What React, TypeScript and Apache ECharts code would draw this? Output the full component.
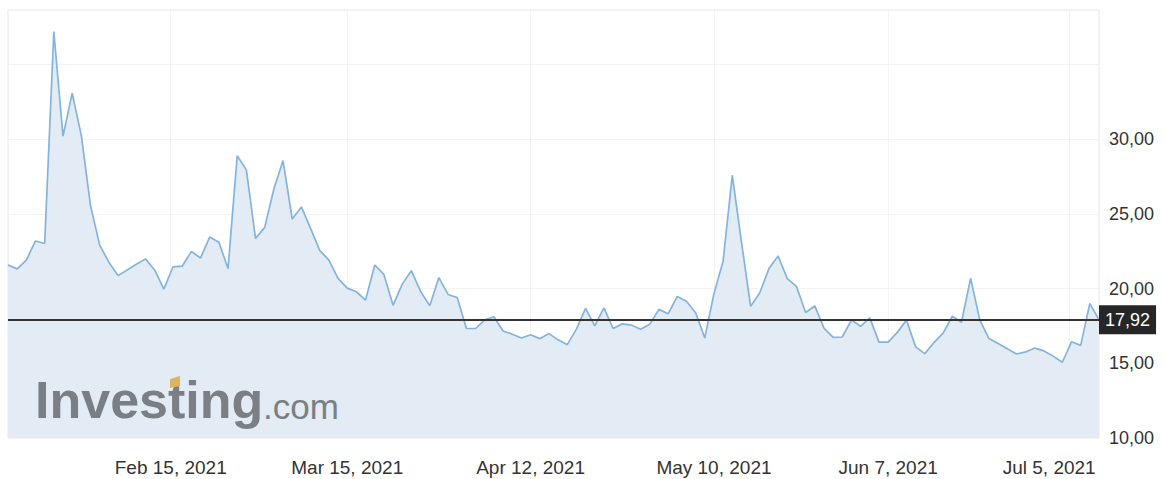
import React, { useEffect, useRef } from "react";
import * as echarts from "echarts";

const dates: string[] = [
  "2021-01-20", "2021-01-21", "2021-01-22", "2021-01-25", "2021-01-26", "2021-01-27", "2021-01-28", "2021-01-29",
  "2021-02-01", "2021-02-02", "2021-02-03", "2021-02-04", "2021-02-05", "2021-02-08", "2021-02-09", "2021-02-10", "2021-02-11", "2021-02-12",
  "2021-02-16", "2021-02-17", "2021-02-18", "2021-02-19", "2021-02-22", "2021-02-23", "2021-02-24", "2021-02-25", "2021-02-26",
  "2021-03-01", "2021-03-02", "2021-03-03", "2021-03-04", "2021-03-05", "2021-03-08", "2021-03-09", "2021-03-10", "2021-03-11", "2021-03-12",
  "2021-03-15", "2021-03-16", "2021-03-17", "2021-03-18", "2021-03-19", "2021-03-22", "2021-03-23", "2021-03-24", "2021-03-25", "2021-03-26",
  "2021-03-29", "2021-03-30", "2021-03-31",
  "2021-04-01", "2021-04-02", "2021-04-05", "2021-04-06", "2021-04-07", "2021-04-08", "2021-04-09", "2021-04-12", "2021-04-13", "2021-04-14",
  "2021-04-15", "2021-04-16", "2021-04-19", "2021-04-20", "2021-04-21", "2021-04-22", "2021-04-23", "2021-04-26", "2021-04-27", "2021-04-28",
  "2021-04-29", "2021-04-30",
  "2021-05-03", "2021-05-04", "2021-05-05", "2021-05-06", "2021-05-07", "2021-05-10", "2021-05-11", "2021-05-12", "2021-05-13", "2021-05-14",
  "2021-05-17", "2021-05-18", "2021-05-19", "2021-05-20", "2021-05-21", "2021-05-24", "2021-05-25", "2021-05-26", "2021-05-27", "2021-05-28",
  "2021-06-01", "2021-06-02", "2021-06-03", "2021-06-04", "2021-06-07", "2021-06-08", "2021-06-09", "2021-06-10", "2021-06-11", "2021-06-14",
  "2021-06-15", "2021-06-16", "2021-06-17", "2021-06-18", "2021-06-21", "2021-06-22", "2021-06-23", "2021-06-24", "2021-06-25", "2021-06-28",
  "2021-06-29", "2021-06-30",
  "2021-07-01", "2021-07-02", "2021-07-06", "2021-07-07", "2021-07-08", "2021-07-09",
];

const values: number[] = [
  21.58, 21.32, 21.91, 23.19, 23.02, 37.21, 30.21, 33.09,
  30.24, 25.56, 22.91, 21.77, 20.87, 21.24, 21.63, 21.99, 21.25, 19.97,
  21.46, 21.5, 22.49, 22.05, 23.45, 23.11, 21.34, 28.89, 27.95,
  23.35, 24.1, 26.67, 28.57, 24.66, 25.47, 24.03, 22.56, 21.91, 20.69,
  20.03, 19.79, 19.23, 21.58, 20.95, 18.88, 20.3, 21.2, 19.81, 18.86,
  20.74, 19.61, 19.4,
  17.33, 17.33, 17.91, 18.12, 17.16, 16.95, 16.69, 16.91, 16.65, 16.99,
  16.57, 16.25, 17.29, 18.68, 17.5, 18.71, 17.33, 17.64, 17.56, 17.28,
  17.61, 18.61,
  18.31, 19.48, 19.15, 18.39, 16.69, 19.66, 21.84, 27.59, 23.13, 18.81,
  19.72, 21.34, 22.18, 20.67, 20.15, 18.4, 18.84, 17.36, 16.74, 16.76,
  17.9, 17.48, 18.04, 16.42, 16.42, 17.07, 17.89, 16.1, 15.65, 16.39,
  17.02, 18.15, 17.75, 20.7, 17.89, 16.66, 16.32, 15.97, 15.62, 15.76,
  16.02, 15.83,
  15.48, 15.07, 16.44, 16.2, 19.0, 17.92,
];

const tickDates: string[] = ["2021-02-15", "2021-03-15", "2021-04-12", "2021-05-10", "2021-06-07", "2021-07-05"];
const yLabelValues: number[] = [10, 15, 20, 25, 30];
const monthNames: string[] = ["Jan", "Feb", "Mar", "Apr", "May", "Jun", "Jul", "Aug", "Sep", "Oct", "Nov", "Dec"];

const FONT = '"Liberation Sans", Arial, Helvetica, sans-serif';

function tickPosition(d: string): number {
  const t = Date.parse(d);
  for (let i = 0; i < dates.length; i++) {
    const ti = Date.parse(dates[i]);
    if (ti === t) return i;
    if (i + 1 < dates.length) {
      const tn = Date.parse(dates[i + 1]);
      if (ti < t && t < tn) return i + (t - ti) / (tn - ti);
    }
  }
  return 0;
}

function formatDate(d: string): string {
  const [y, m, day] = d.split("-").map((s) => parseInt(s, 10));
  return `${monthNames[m - 1]} ${day}, ${y}`;
}

const fmtNum = (v: number) => v.toFixed(2).replace(".", ",");

export default function App() {
  const ref = useRef<HTMLDivElement>(null);

  useEffect(() => {
    if (!ref.current) return;
    const chart = echarts.init(ref.current, undefined, { renderer: "svg" });
    const ticks = tickDates.map((d) => ({ pos: tickPosition(d), label: formatDate(d) }));
    const tickPos = ticks.map((t) => t.pos);
    const last = values[values.length - 1];

    chart.setOption({
      animation: false,
      backgroundColor: "#ffffff",
      textStyle: { fontFamily: FONT },
      grid: {
        left: 8,
        right: 65,
        top: 10,
        bottom: 41,
        show: true,
        borderColor: "#e3e6ed",
        borderWidth: 1,
        backgroundColor: "transparent",
      },
      xAxis: {
        type: "value",
        min: 0,
        max: values.length - 1,
        axisLine: { show: false },
        axisTick: { show: false, customValues: tickPos },
        axisLabel: {
          customValues: tickPos,
          formatter: (v: number) => {
            const idx = ticks.findIndex((k) => Math.abs(k.pos - v) < 1e-6);
            if (idx < 0) return "";
            return idx === ticks.length - 1 ? `{end|${ticks[idx].label}}` : ticks[idx].label;
          },
          rich: {
            end: {
              color: "#333333",
              fontSize: 19,
              fontFamily: FONT,
              padding: [0, 40, 0, 0],
            },
          },
          color: "#333333",
          fontSize: 19,
          fontFamily: FONT,
          margin: 20,
        },
        splitLine: { show: true, lineStyle: { color: "#f3f3f5", width: 1 } },
      },
      yAxis: {
        type: "value",
        position: "right",
        min: 10,
        max: 38.65,
        interval: 5,
        axisLine: { show: false },
        axisTick: { show: false },
        axisLabel: {
          formatter: (v: number) => (yLabelValues.indexOf(v) >= 0 ? fmtNum(v) : ""),
          color: "#333333",
          fontSize: 18,
          fontFamily: FONT,
          margin: 10,
        },
        splitLine: { show: true, lineStyle: { color: "#f3f3f5", width: 1 } },
      },
      series: [
        {
          type: "line",
          data: values.map((v, i) => [i, v]),
          symbol: "none",
          showSymbol: false,
          lineStyle: { color: "#84b4de", width: 1.7 },
          areaStyle: { color: "#e3ecf4", opacity: 1 },
          emphasis: { disabled: true },
          markLine: {
            silent: true,
            symbol: "none",
            animation: false,
            lineStyle: { color: "#333333", width: 2, type: "solid" },
            label: {
              position: "end",
              formatter: fmtNum(last),
              color: "#ffffff",
              backgroundColor: "#262626",
              fontSize: 18,
              fontFamily: FONT,
              lineHeight: 18,
              padding: [6, 6, 5, 6],
              distance: 0,
            },
            data: [{ yAxis: last }],
          },
        },
      ],
      graphic: [
        {
          type: "text",
          x: 35,
          y: 400,
          z: 100,
          silent: true,
          style: {
            text: "Investing",
            fill: "#7a7e85",
            fontSize: 52,
            fontWeight: "bold",
            fontFamily: FONT,
            verticalAlign: "middle",
          },
        },
        {
          type: "polygon",
          z: 101,
          silent: true,
          shape: { points: [[170, 379], [180, 376], [180, 386], [170, 388]] },
          style: { fill: "#dfb45e" },
        },
        {
          type: "text",
          x: 263,
          y: 406,
          z: 100,
          silent: true,
          style: {
            text: ".com",
            fill: "#7a7e85",
            fontSize: 35,
            fontFamily: FONT,
            verticalAlign: "middle",
          },
        },
      ],
    });

    return () => chart.dispose();
  }, []);

  return (
    <div
      ref={ref}
      style={{ position: "absolute", left: 0, top: 0, width: 1164, height: 479 }}
    />
  );
}
